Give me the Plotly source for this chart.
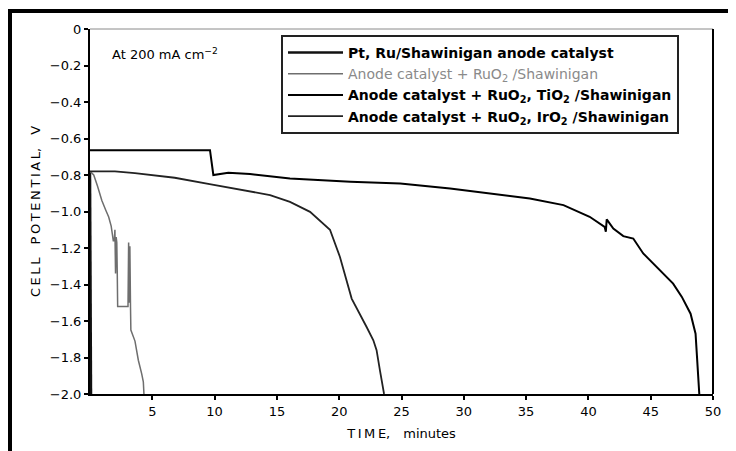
import plotly.graph_objects as go

# ---- data (time in minutes, cell potential in V) ----
t_ptru = [0.0, 0.04, 0.08]
v_ptru = [-0.78, -1.74, -2.0]

t_ruo2 = [0.0, 0.3, 0.6, 0.95, 1.25, 1.5, 1.7, 1.87, 1.95, 2.0, 2.05, 2.1, 2.15, 2.19, 2.22,
          3.05, 3.1, 3.15, 3.2, 3.25, 3.28, 3.61, 3.88, 4.15, 4.28, 4.33]
v_ruo2 = [-0.78, -0.80, -0.86, -0.94, -0.99, -1.03, -1.08, -1.16, -1.16, -1.10, -1.34, -1.14, -1.17, -1.35, -1.52,
          -1.52, -1.17, -1.50, -1.19, -1.52, -1.65, -1.71, -1.815, -1.89, -1.934, -2.0]

t_tio2 = [0.0, 9.63, 9.9, 11.1, 12.84, 16.05, 20.9, 24.9, 28.9, 31.3, 32.9, 35.3, 38.0, 40.1,
          41.3, 41.4, 41.47, 42.0, 42.8, 43.6, 44.4, 45.2, 46.0, 46.8, 47.5, 48.2, 48.6, 48.75, 48.9]
v_tio2 = [-0.664, -0.664, -0.80, -0.788, -0.795, -0.819, -0.837, -0.846, -0.874, -0.896, -0.907, -0.929, -0.965, -1.029,
          -1.084, -1.111, -1.043, -1.093, -1.135, -1.148, -1.23, -1.285, -1.34, -1.395, -1.468, -1.56, -1.67, -1.815, -2.0]

t_iro2 = [0.0, 2.0, 3.6, 6.8, 9.6, 12.84, 14.45, 16.05, 17.66, 19.26, 20.06, 21.0, 21.67, 22.2, 22.74,
          23.0, 23.27, 23.54, 23.6]
v_iro2 = [-0.78, -0.78, -0.79, -0.815, -0.85, -0.89, -0.91, -0.947, -1.002, -1.10, -1.249, -1.477, -1.56, -1.633, -1.706,
          -1.76, -1.87, -1.98, -2.0]

x_ticks = [5, 10, 15, 20, 25, 30, 35, 40, 45, 50]
y_ticks = [0, -0.2, -0.4, -0.6, -0.8, -1.0, -1.2, -1.4, -1.6, -1.8, -2.0]
y_tick_labels = ["0", "\u22120.2", "\u22120.4", "\u22120.6", "\u22120.8", "\u22121.0",
                 "\u22121.2", "\u22121.4", "\u22121.6", "\u22121.8", "\u22122.0"]

names = [
    "<b>Pt, Ru/Shawinigan anode catalyst</b>",
    "<span style='color:#8a8a8a'>Anode catalyst + RuO<sub>2</sub> /Shawinigan</span>",
    "<b>Anode catalyst + RuO<sub>2</sub>, TiO<sub>2</sub> /Shawinigan</b>",
    "<b>Anode catalyst + RuO<sub>2</sub>, IrO<sub>2</sub> /Shawinigan</b>",
]

FONT = "DejaVu Sans"

fig = go.Figure()
fig.add_trace(go.Scatter(x=t_ptru, y=v_ptru, mode="lines", name=names[0],
                         line=dict(color="#111111", width=2.5)))
fig.add_trace(go.Scatter(x=t_ruo2, y=v_ruo2, mode="lines", name=names[1],
                         line=dict(color="#6e6e6e", width=1.5)))
fig.add_trace(go.Scatter(x=t_tio2, y=v_tio2, mode="lines", name=names[2],
                         line=dict(color="#000000", width=2)))
fig.add_trace(go.Scatter(x=t_iro2, y=v_iro2, mode="lines", name=names[3],
                         line=dict(color="#222222", width=1.8)))

# the page adds an 8px body margin, so figure coords = page coords - 8
FW, FH = 728, 443
L, R, T, B = 82, 705, 21, 386
W, H = R - L, B - T
def px(x):
    return (x - 8 - L) / W
def py(y):
    return (B - (y - 8)) / H

fig.update_layout(
    width=FW, height=FH,
    margin=dict(l=L, r=FW - R, t=T, b=FH - B, autoexpand=False),
    paper_bgcolor="white", plot_bgcolor="white",
    font=dict(family=FONT, color="black", size=12),
    showlegend=True,
    legend=dict(
        x=px(281), y=py(35), xanchor="left", yanchor="top",
        bgcolor="white", bordercolor="#222222", borderwidth=2,
        font=dict(family=FONT, size=14, color="black"),
        itemwidth=55, tracegroupgap=0,
    ),
    xaxis=dict(
        range=[0, 50], tickvals=x_ticks, ticktext=[str(v) for v in x_ticks],
        showgrid=False, zeroline=False, showline=True, linecolor="black", linewidth=2,
        ticks="outside", ticklen=4, tickwidth=1.5, tickcolor="black",
        tickfont=dict(family=FONT, size=13), automargin=False,
        title=dict(text="T\u2009I\u2009M\u2009E,\u2003minutes", font=dict(family=FONT, size=13), standoff=11),
    ),
    yaxis=dict(
        range=[-2.0, 0], tickvals=y_ticks, ticktext=y_tick_labels,
        showgrid=False, zeroline=False, showline=True, linecolor="black", linewidth=2,
        ticks="outside", ticklen=4, tickwidth=1.5, tickcolor="black",
        tickfont=dict(family=FONT, size=13), automargin=False,
        title=dict(text="C\u2009E\u2009L\u2009L\u2003P\u2009O\u2009T\u2009E\u2009N\u2009T\u2009I\u2009A\u2009L,\u2003V",
                   font=dict(family=FONT, size=13), standoff=6),
    ),
    annotations=[
        dict(text="At 200 mA cm<sup>\u22122</sup>", xref="paper", yref="paper",
             x=px(110), y=py(54), xanchor="left", yanchor="middle", showarrow=False,
             font=dict(family=FONT, size=13, color="black")),
    ],
    shapes=[
        # outer frame of the figure
        dict(type="rect", xref="paper", yref="paper",
             x0=px(10), x1=px(734), y0=py(480), y1=py(11),
             line=dict(color="black", width=4), fillcolor="rgba(0,0,0,0)", layer="above"),
        # thin top edge of plot box
        dict(type="line", xref="paper", yref="paper", x0=0, x1=1, y0=1, y1=1,
             line=dict(color="#8a8a8a", width=1)),
        # right edge of plot box
        dict(type="line", xref="paper", yref="paper", x0=1, x1=1, y0=0, y1=1,
             line=dict(color="black", width=2)),
    ],
)

fig.write_html("out.html")
